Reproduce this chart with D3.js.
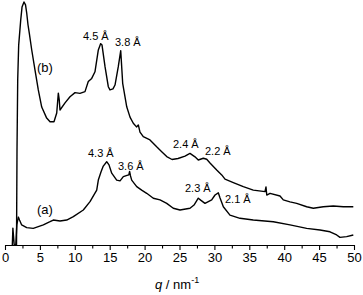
<!DOCTYPE html>
<html><head><meta charset="utf-8">
<script src="https://cdn.jsdelivr.net/npm/d3@7"></script>
<style>html,body{margin:0;padding:0;background:#fff}svg{display:block}</style>
</head><body>
<script>
// ---- data (intensity in arbitrary units) ----
const qB = [1.50,1.65,1.72,1.82,1.96,2.25,2.44,2.72,2.94,3.11,3.30,3.48,3.83,4.30,4.77,5.26,5.97,6.45,7.02,7.41,7.64,7.77,7.88,8.60,9.31,10.03,10.74,11.46,11.93,12.42,12.89,13.37,13.71,13.90,14.33,14.80,15.04,15.47,15.76,16.23,16.58,16.86,17.44,17.91,18.38,18.84,19.10,19.34,19.81,20.77,21.73,22.49,23.17,23.93,24.79,25.79,26.50,27.22,27.69,28.41,28.90,29.37,30.33,31.05,31.52,32.71,34.14,35.57,37.25,37.39,37.50,37.97,39.40,39.87,40.83,41.79,43.22,44.17,45.60,47.03,48.47,49.90];
const iB = [0,0,38.8,67.3,81.6,91.8,97.1,99.2,98.0,94.7,89.8,86.5,79.6,71.4,63.3,56.3,51.8,50.3,50.3,53.9,62.0,59.2,55.1,58.0,60.5,62.2,61.9,62.6,66.7,68.0,70.7,79.6,82.2,81.6,72.8,64.6,63.3,63.7,65.3,72.8,79.3,66.0,56.4,52.2,49.7,48.2,49.0,46.1,44.2,42.9,40.1,38.0,36.1,34.9,35.3,36.3,37.4,36.0,34.7,35.4,35.0,33.5,30.6,28.6,26.9,25.5,23.8,22.4,21.8,23.7,20.4,21.1,20.0,18.4,17.6,17.0,15.6,15.0,15.6,15.9,15.6,15.6];
const qA = [1.05,1.13,1.22,1.32,1.55,1.69,1.91,2.08,2.39,3.11,4.05,5.49,6.45,6.92,7.88,8.84,9.79,11.22,12.18,13.14,13.37,13.75,14.08,14.57,14.90,15.29,16.00,16.48,16.95,17.48,17.74,17.85,17.98,18.15,18.87,19.58,20.30,21.25,22.21,23.17,24.11,25.07,26.50,27.08,27.69,28.08,28.65,29.61,30.09,30.56,30.81,31.28,32.23,33.67,35.57,38.44,40.83,43.22,45.13,46.56,47.52,47.99,48.95,49.90];
const iA = [0,6.9,3.7,0,0,8.2,11.4,10.2,8.2,7.1,6.8,8.2,9.5,10.2,9.8,10.2,11.6,14.3,17.7,22.4,26.5,29.8,32.2,34.0,32.7,29.3,26.5,26.2,27.9,28.4,28.6,30.0,28.2,26.5,23.8,22.4,21.1,19.1,18.4,17.0,15.0,14.3,15.0,16.3,19.1,18.2,17.0,18.4,20.4,21.3,19.2,15.6,12.2,10.9,10.2,9.5,8.2,6.8,6.1,5.4,4.1,3.1,3.4,4.1];

const xTicks = [0,5,10,15,20,25,30,35,40,45,50];
const xMinorTicks = [2.5,7.5,12.5,17.5,22.5,27.5,32.5,37.5,42.5,47.5];

const peakLabels = ["4.5 Å","3.8 Å","4.3 Å","3.6 Å","2.4 Å","2.2 Å","2.3 Å","2.1 Å"];
const peakLabelQ = [11.17,15.76,11.89,16.19,24.07,28.65,25.79,31.52];
const peakLabelI = [83.7,81.2,35.9,30.6,39.6,36.7,21.6,17.1];
const curveNames = ["(b)","(a)"];
const curveNameQ = [4.58,4.58];
const curveNameI = [70.6,12.6];

// ---- drawing ----
const W = 363, H = 295;
const font = "'Liberation Sans', Arial, sans-serif";
const svg = d3.select("body").append("svg").attr("width", W).attr("height", H);

const x = d3.scaleLinear().domain([0, 50]).range([5, 354]);
const y = d3.scaleLinear().domain([0, 100]).range([245, 0]);

const line = d3.line().x(d => x(d[0])).y(d => y(d[1]));
const seriesB = qB.map((q, i) => [q, iB[i]]);
const seriesA = qA.map((q, i) => [q, iA[i]]);

svg.append("path").datum(seriesB).attr("d", line)
  .attr("fill", "none").attr("stroke", "#000").attr("stroke-width", 1.4).attr("stroke-linejoin", "round");
svg.append("path").datum(seriesA).attr("d", line)
  .attr("fill", "none").attr("stroke", "#000").attr("stroke-width", 1.4).attr("stroke-linejoin", "round");

// axis
const gx = svg.append("g").attr("transform", `translate(0,${y(0)})`)
  .call(d3.axisBottom(x).tickValues(xTicks).tickSize(5).tickSizeOuter(0).tickPadding(3).tickFormat(d3.format("d")));
gx.select(".domain").attr("stroke", "#000").attr("stroke-width", 1.2);
gx.selectAll(".tick line").attr("stroke", "#000").attr("stroke-width", 1.1);
gx.selectAll(".tick text").attr("font-family", font).attr("font-size", 13).attr("fill", "#000");

const gm = svg.append("g").attr("transform", `translate(0,${y(0)})`)
  .call(d3.axisBottom(x).tickValues(xMinorTicks).tickSize(3.5).tickSizeOuter(0).tickFormat(""));
gm.select(".domain").remove();
gm.selectAll(".tick line").attr("stroke", "#000").attr("stroke-width", 1.1);

// axis title
const t = svg.append("text").attr("x", 155).attr("y", 289)
  .attr("font-family", font).attr("font-size", 13).attr("fill", "#000");
t.append("tspan").attr("font-style", "italic").text("q");
t.append("tspan").text(" / nm");
t.append("tspan").attr("font-size", 9).attr("dy", -6).text("-1");

// annotations
svg.selectAll("text.peak").data(peakLabels).join("text").attr("class", "peak")
  .attr("x", (d, i) => x(peakLabelQ[i])).attr("y", (d, i) => y(peakLabelI[i]))
  .attr("font-family", font).attr("font-size", 11).attr("fill", "#000").text(d => d);
svg.selectAll("text.cname").data(curveNames).join("text").attr("class", "cname")
  .attr("x", (d, i) => x(curveNameQ[i])).attr("y", (d, i) => y(curveNameI[i]))
  .attr("font-family", font).attr("font-size", 13).attr("fill", "#000").text(d => d);
</script>
</body></html>
